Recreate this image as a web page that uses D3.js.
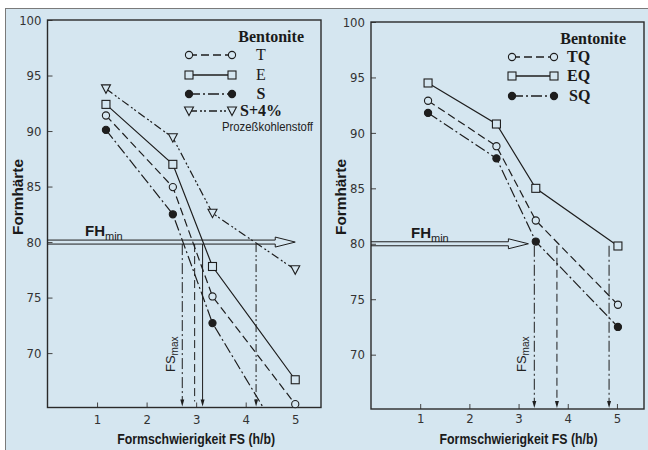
<!DOCTYPE html>
<html>
<head>
<meta charset="utf-8">
<script src="https://cdnjs.cloudflare.com/ajax/libs/d3/7.8.5/d3.min.js"></script>
<style>
  html, body { margin: 0; padding: 0; background: #fff; }
  svg { display: block; }
  .tick-label { font-family: "DejaVu Sans Condensed", "Liberation Sans", sans-serif; font-stretch: condensed; font-size: 13px; fill: #333; }
  .axis-title { font-family: "Liberation Sans", "DejaVu Sans", sans-serif; font-size: 15px; font-weight: bold; fill: #1a1a1a; }
  .legend-title { font-family: "Liberation Serif", serif; font-size: 16px; font-weight: bold; fill: #1a1a1a; }
  .legend-label { font-family: "Liberation Serif", serif; font-size: 16px; fill: #1a1a1a; }
  .note { font-family: "Liberation Sans", "DejaVu Sans", sans-serif; font-size: 13px; fill: #222; }
</style>
</head>
<body>
<div id="chart"></div>
<script>
'use strict';

// ---- data ----
const xTicks = [1, 2, 3, 4, 5];
const yTicks = [70, 75, 80, 85, 90, 95, 100];
const fhMin = 80;

// left panel
const leftFS = [1.18, 2.53, 3.33, 5.0];
const seriesT = [91.4, 84.95, 75.1, 65.4];
const seriesE = [92.4, 87.0, 77.8, 67.6];
const seriesS = [90.1, 82.5, 72.7, 60.3];
const seriesS4 = [93.8, 89.4, 82.6, 77.5];
const leftFSmax = [2.72, 2.97, 3.13, 4.21];
const leftArrowEnd = 5.0;

// right panel
const rightFS = [1.16, 2.55, 3.35, 5.02];
const seriesTQ = [92.9, 88.8, 82.1, 74.5];
const seriesEQ = [94.5, 90.8, 85.0, 79.8];
const seriesSQ = [91.8, 87.7, 80.2, 72.5];
const rightFSmax = [3.32, 3.78, 4.84];
const rightArrowEnd = 3.2;

const BG = "#d5e6f0";
const INK = "#1e1e1e";

const dashes = {
    dashed: "8,4",
    solid: null,
    dashdot: "11,3,2,3",
    dashdotdot: "8,3,2,2,2,3"
};

const svg = d3.select('#chart').append('svg')
    .attr('width', 648)
    .attr('height', 450);

// page frame
svg.append('rect').attr('x', 0).attr('y', 0).attr('width', 648).attr('height', 450).attr('fill', '#fff');
svg.append('rect')
    .attr('x', 5.5).attr('y', 8.5).attr('width', 660).attr('height', 460)
    .attr('fill', BG).attr('stroke', '#7a7a7a').attr('stroke-width', 1);

function marker (g, shape, x, y)
{
    if (shape === 'circle' || shape === 'dot') {
        g.append('circle')
            .attr('cx', x).attr('cy', y).attr('r', 3.6)
            .attr('fill', shape === 'dot' ? INK : BG)
            .attr('stroke', INK).attr('stroke-width', 1.1);
    } else if (shape === 'square') {
        g.append('rect')
            .attr('x', x - 4).attr('y', y - 4).attr('width', 8).attr('height', 8)
            .attr('fill', BG).attr('stroke', INK).attr('stroke-width', 1.1);
    } else if (shape === 'triangle') {
        g.append('path')
            .attr('d', `M${x - 4.5},${y - 4}L${x + 4.5},${y - 4}L${x},${y + 4.5}Z`)
            .attr('fill', BG).attr('stroke', INK).attr('stroke-width', 1.1);
    }
}

function drawPanel (cfg)
{
    const x = d3.scaleLinear().domain([0, cfg.xMax]).range([cfg.left, cfg.right]);
    const y = d3.scaleLinear().domain([cfg.yMin, 100]).range([cfg.bottom, cfg.top]);
    const g = svg.append('g');

    const clipId = 'clip-' + cfg.id;
    g.append('clipPath').attr('id', clipId)
        .append('rect')
        .attr('x', cfg.left).attr('y', cfg.top)
        .attr('width', cfg.right - cfg.left).attr('height', cfg.bottom - cfg.top);

    // axes with inward ticks
    const yAxis = d3.axisLeft(y).tickValues(yTicks).tickSize(-5).tickPadding(6).tickFormat(d3.format('d'));
    const xAxis = d3.axisBottom(x).tickValues(xTicks).tickSize(-5).tickPadding(cfg.xPad).tickFormat(d3.format('d'));

    const ya = g.append('g').attr('transform', `translate(${cfg.left},0)`).call(yAxis);
    const xa = g.append('g').attr('transform', `translate(0,${cfg.bottom})`).call(xAxis);
    [ya, xa].forEach(a => {
        a.select('.domain').remove();
        a.selectAll('line').attr('stroke', '#444').attr('stroke-width', 1);
        a.selectAll('text').attr('class', 'tick-label').attr('fill', null);
    });

    // frame
    g.append('rect')
        .attr('x', cfg.left).attr('y', cfg.top)
        .attr('width', cfg.right - cfg.left).attr('height', cfg.bottom - cfg.top)
        .attr('fill', 'none').attr('stroke', '#2a2a2a').attr('stroke-width', 1.4);

    // FH_min arrow (outlined)
    const ay = y(fhMin);
    const tip = x(cfg.arrowEnd);
    const hb = tip - 20;
    g.append('path')
        .attr('d', `M${cfg.left},${ay - 2}L${hb},${ay - 2}L${hb},${ay - 5}L${tip},${ay}` +
                   `L${hb},${ay + 5}L${hb},${ay + 2}L${cfg.left},${ay + 2}`)
        .attr('fill', 'none').attr('stroke', INK).attr('stroke-width', 1);

    const fh = g.append('text').attr('class', 'axis-title')
        .attr('x', cfg.fhX).attr('y', ay - 6).style('font-size', '15px');
    fh.append('tspan').text('FH');
    fh.append('tspan').attr('dy', 4).style('font-size', '11px').style('font-weight', 'normal').text('min');

    // FS_max verticals
    cfg.fsMax.forEach((v, i) => {
        const px = x(v);
        g.append('line')
            .attr('x1', px).attr('x2', px)
            .attr('y1', ay + 2).attr('y2', cfg.bottom - 6)
            .attr('stroke', INK).attr('stroke-width', 1)
            .attr('stroke-dasharray', dashes[cfg.fsStyles[i]]);
        if (cfg.fsArrows[i]) {
            g.append('path')
                .attr('d', `M${px - 2},${cfg.bottom - 8}L${px + 2},${cfg.bottom - 8}L${px},${cfg.bottom - 1}Z`)
                .attr('fill', INK);
        }
    });

    const fsx = x(cfg.fsLabelAt);
    const fs = g.append('text').attr('class', 'note')
        .attr('transform', `translate(${fsx},${cfg.fsLabelY}) rotate(-90)`);
    fs.append('tspan').text('FS');
    fs.append('tspan').attr('dy', 3).style('font-size', '10px').text('max');

    // series lines and markers
    const line = d3.line().x(d => x(d[0])).y(d => y(d[1]));
    cfg.series.forEach(s => {
        const pts = cfg.xs.map((v, i) => [v, s.values[i]]);
        g.append('path')
            .attr('clip-path', `url(#${clipId})`)
            .attr('d', line(pts))
            .attr('fill', 'none').attr('stroke', INK).attr('stroke-width', 1.2)
            .attr('stroke-dasharray', dashes[s.style]);
        pts.filter(p => p[1] >= cfg.yMin).forEach(p => marker(g, s.shape, x(p[0]), y(p[1])));
    });

    // legend
    g.append('text').attr('class', 'legend-title')
        .attr('x', cfg.legend.titleX).attr('y', cfg.legend.titleY)
        .attr('text-anchor', 'end').text('Bentonite');
    cfg.series.forEach((s, i) => {
        const ly = cfg.legend.rows[i];
        g.append('line')
            .attr('x1', cfg.legend.x1).attr('x2', cfg.legend.x2)
            .attr('y1', ly).attr('y2', ly)
            .attr('stroke', INK).attr('stroke-width', 1.4)
            .attr('stroke-dasharray', dashes[s.style]);
        marker(g, s.shape, cfg.legend.x1, ly);
        marker(g, s.shape, cfg.legend.x2, ly);
        g.append('text').attr('class', 'legend-label')
            .attr('x', cfg.legend.labelX[i]).attr('y', ly + 5)
            .attr('text-anchor', cfg.legend.anchor)
            .style('font-weight', s.bold ? 'bold' : 'normal')
            .text(s.name);
    });

    // axis titles, squeezed to the narrow face of the original
    g.append('text').attr('class', 'axis-title')
        .attr('transform', `translate(${cfg.yTitleX},${cfg.yTitleY}) rotate(-90)`)
        .attr('text-anchor', 'middle')
        .attr('textLength', 76).attr('lengthAdjust', 'spacingAndGlyphs')
        .text('Formhärte');
    g.append('text').attr('class', 'axis-title')
        .attr('x', (x(1) + x(5)) / 2).attr('y', cfg.xTitleY)
        .attr('text-anchor', 'middle')
        .attr('textLength', 158).attr('lengthAdjust', 'spacingAndGlyphs')
        .text('Formschwierigkeit FS (h/b)');

    return g;
}

const left = drawPanel({
    id: 'l', left: 47.5, right: 321, top: 20, bottom: 407.5, xMax: 5.52, yMin: 65.1, xPad: 7,
    xs: leftFS,
    series: [
        {name: 'T', values: seriesT, shape: 'circle', style: 'dashed'},
        {name: 'E', values: seriesE, shape: 'square', style: 'solid'},
        {name: 'S', values: seriesS, shape: 'dot', style: 'dashdot', bold: true},
        {name: 'S+4%', values: seriesS4, shape: 'triangle', style: 'dashdotdot', bold: true}
    ],
    fsMax: leftFSmax,
    fsStyles: ['dashdot', 'dashed', 'solid', 'dashdotdot'],
    fsArrows: [true, false, true, true],
    fsLabelAt: 2.58, fsLabelY: 372,
    arrowEnd: leftArrowEnd, fhX: 85,
    legend: {titleX: 304, titleY: 42, x1: 189, x2: 232, rows: [55, 75, 94, 111],
             labelX: [261, 261, 261, 240], anchor: 'start'},
    yTitleX: 23, yTitleY: 197, xTitleY: 444
});

// "Prozeßkohlenstoff" note under the S+4% entry
left.append('text').attr('class', 'note')
    .attr('x', 222).attr('y', 131)
    .attr('textLength', 91).attr('lengthAdjust', 'spacingAndGlyphs')
    .text('Prozeßkohlenstoff');
// centre single-letter labels
left.selectAll('.legend-label').filter((d, i) => i < 3).attr('text-anchor', 'middle');

drawPanel({
    id: 'r', left: 371, right: 644, top: 22, bottom: 409, xMax: 5.55, yMin: 65.1, xPad: 5,
    xs: rightFS,
    series: [
        {name: 'TQ', values: seriesTQ, shape: 'circle', style: 'dashed', bold: true},
        {name: 'EQ', values: seriesEQ, shape: 'square', style: 'solid', bold: true},
        {name: 'SQ', values: seriesSQ, shape: 'dot', style: 'dashdot', bold: true}
    ],
    fsMax: rightFSmax,
    fsStyles: ['dashdot', 'dashed', 'dashdot'],
    fsArrows: [true, true, true],
    fsLabelAt: 3.15, fsLabelY: 372,
    arrowEnd: rightArrowEnd, fhX: 411,
    legend: {titleX: 626, titleY: 44, x1: 512, x2: 554, rows: [57, 76, 96],
             labelX: [567, 567, 569], anchor: 'start'},
    yTitleX: 346, yTitleY: 197, xTitleY: 444
});
</script>
</body>
</html>
